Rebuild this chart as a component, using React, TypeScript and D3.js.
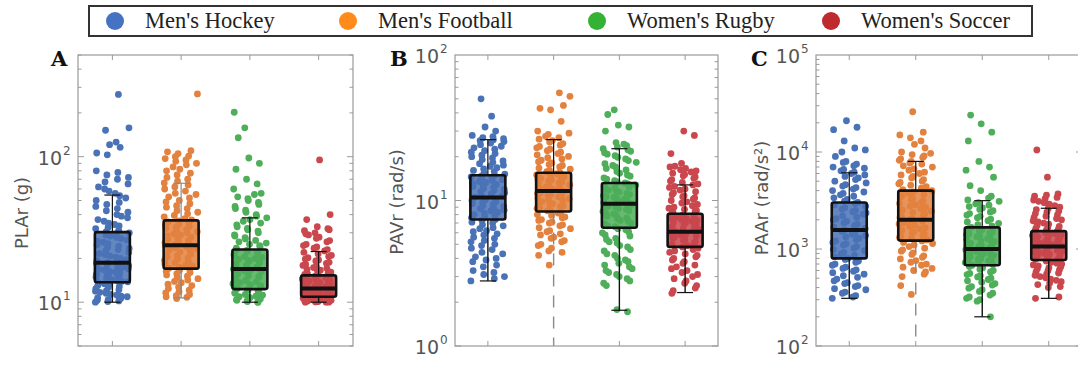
import React from 'react';
import * as d3 from 'd3';

// groups, in draw order
const categories = ["Men's Hockey", "Men's Football", "Women's Rugby", "Women's Soccer"];
const legendColors = ['#4672c2', '#ff8c1a', '#34b234', '#be2a2e'];
const pointColors = ['#4a72b6', '#e3813f', '#4eae5a', '#c9474d'];

const panelLetters = ['A', 'B', 'C'];
const yLabels = ['PLAr (g)', 'PAVr (rad/s)', 'PAAr (rad/s\u00b2)'];
const yDomains = [[5, 500], [1, 100], [100, 100000]];
const yTickExps = [[1, 2], [0, 1, 2], [2, 3, 4, 5]];

// box stats per panel, one entry per group
const q1 = [[13.7, 17, 12.3, 10.9], [7.4, 8.4, 6.5, 4.8], [800, 1220, 680, 770]];
const medians = [[18.7, 24.6, 16.9, 12.4], [10.5, 11.6, 9.5, 6.1], [1570, 2000, 1000, 1060]];
const q3 = [[30.3, 36.5, 23, 15.3], [14.9, 15.5, 13.2, 8.1], [3020, 4000, 1670, 1530]];
const whiskerLo = [[10, 10.7, 10, 10], [2.8, 1, 1.76, 2.33], [310, 100, 200, 310]];
const whiskerHi = [[54.5, 65.7, 38, 22.3], [26.2, 26.2, 22.7, 12.8], [6100, 8000, 3150, 2630]];

// individual impacts
const plaHockey = [10, 10.2, 10.4, 10.7, 11, 11.3, 11.7, 12, 12.4, 12.8, 13.2, 13.6, 13.9, 14.3, 14.7, 15.1, 15.5, 15.9, 16.3, 16.8, 17.3, 17.8, 18.3, 18.7, 19.3, 20, 20.8, 21.6, 22.5, 23.4, 24.3, 25.3, 26.3, 27.4, 28.5, 29.6, 30.5, 32, 33.5, 35, 37, 39, 41.5, 44, 47, 50, 54, 58, 62, 67, 72, 78, 103, 106, 116, 121, 126, 152, 158, 268,
  10.1, 10.3, 10.6, 10.9, 11.2, 11.5, 11.9, 12.2, 12.6, 13, 13.4, 13.8, 14.1, 14.5, 14.9, 15.3, 15.7, 16.1, 16.6, 17, 17.5, 18, 18.5, 19, 19.6, 20.4, 21.2, 22, 23, 23.9, 24.8, 25.8, 26.8, 27.9, 29, 30, 31.2, 32.8, 34.2, 36, 38, 40, 42.5, 45.5, 48.5, 52, 56, 60, 65, 70, 75, 80];
const plaFootball = [10.6, 10.9, 11.3, 11.8, 12.4, 13, 13.6, 14.2, 14.8, 15.4, 16, 16.6, 17.1, 17.7, 18.4, 19.1, 19.8, 20.5, 21.3, 22.1, 22.9, 23.7, 24.5, 25.3, 26.2, 27.1, 28, 29, 30, 31.1, 32.2, 33.3, 34.5, 35.7, 36.8, 38.5, 40.5, 42.5, 45, 47.5, 50, 53, 56, 60, 64, 68, 72, 77, 82, 88, 93, 97, 101, 105, 108, 110, 270,
  10.8, 11.1, 11.6, 12.1, 12.7, 13.3, 13.9, 14.5, 15.1, 15.7, 16.3, 16.9, 17.4, 18, 18.7, 19.4, 20.1, 20.9, 21.7, 22.5, 23.3, 24.1, 24.9, 25.7, 26.6, 27.5, 28.5, 29.5, 30.5, 31.6, 32.7, 33.9, 35.1, 36.2, 37.5, 39.5, 41.5, 44, 46, 49, 52, 55, 58, 62, 66, 70, 75, 80, 85, 90, 95, 100];
const plaRugby = [10, 10.1, 10.3, 10.5, 10.7, 10.9, 11.2, 11.5, 11.8, 12.1, 12.4, 12.8, 13.2, 13.6, 14, 14.4, 14.8, 15.2, 15.7, 16.2, 16.7, 17.1, 17.6, 18.1, 18.6, 19.1, 19.7, 20.3, 20.9, 21.6, 22.3, 23, 24, 25, 26, 27.2, 28.5, 30, 31.5, 33, 35, 37, 39, 41.5, 44, 47, 50, 53, 56, 60, 65, 70, 82, 90, 98, 135, 158, 202,
  10, 10.2, 10.4, 10.6, 10.8, 11, 11.3, 11.6, 11.9, 12.2, 12.6, 13, 13.4, 13.8, 14.2, 14.6, 15, 15.5, 16, 16.5, 16.9, 17.4, 17.9, 18.4, 18.9, 19.4, 20, 20.6, 21.2, 22, 22.7, 23.5, 24.5, 25.5, 26.6, 27.8, 29, 30.8, 32.2, 34, 36, 38, 40, 43, 45.5, 48.5, 51.5, 55];
const plaSoccer = [10, 10, 10.1, 10.2, 10.3, 10.4, 10.5, 10.6, 10.7, 10.8, 10.9, 11, 11.1, 11.3, 11.4, 11.6, 11.7, 11.9, 12, 12.2, 12.4, 12.6, 12.8, 13, 13.2, 13.5, 13.7, 14, 14.3, 14.6, 14.9, 15.3, 15.7, 16.1, 16.6, 17.1, 17.6, 18.2, 18.8, 19.5, 20.2, 21, 22, 23, 24, 25, 26.5, 28, 29, 30, 31, 32, 33, 37, 40, 95,
  10, 10.05, 10.15, 10.25, 10.35, 10.45, 10.55, 10.65, 10.75, 10.85, 10.95, 11.05, 11.2, 11.35, 11.5, 11.65, 11.8, 11.95, 12.1, 12.3, 12.5, 12.7, 12.9, 13.1, 13.35, 13.6, 13.85, 14.15, 14.45, 14.75, 15.1, 15.5, 15.9, 16.3, 16.8, 17.3, 17.9, 18.5, 19.2, 19.8, 20.6, 21.5, 22.5, 23.5, 24.5, 26, 27.5, 29.5, 31.5];

const pavHockey = [2.8, 2.9, 3.1, 3.3, 3.6, 3.9, 4.1, 4.4, 4.7, 5, 5.3, 5.6, 5.9, 6.2, 6.5, 6.8, 7.1, 7.4, 7.7, 8, 8.3, 8.6, 8.9, 9.2, 9.5, 9.8, 10.1, 10.5, 10.9, 11.3, 11.7, 12.1, 12.5, 12.9, 13.3, 13.7, 14.1, 14.5, 14.9, 15.5, 16.1, 16.8, 17.5, 18.3, 19.1, 20, 21, 22, 23, 24.2, 25.4, 26.2, 27, 28, 30, 32, 38, 50,
  3, 3.2, 3.5, 3.8, 4, 4.3, 4.6, 4.9, 5.2, 5.5, 5.8, 6.1, 6.4, 6.7, 7, 7.3, 7.6, 7.9, 8.2, 8.5, 8.8, 9.1, 9.4, 9.7, 10, 10.3, 10.7, 11.1, 11.5, 11.9, 12.3, 12.7, 13.1, 13.5, 13.9, 14.3, 14.7, 15.2, 15.8, 16.5, 17.2, 17.9, 18.7, 19.6, 20.5, 21.5, 22.5, 23.6, 24.8, 25.8, 26.6, 27.5];
const pavFootball = [3.6, 4.2, 4.4, 4.7, 5, 5.3, 5.6, 5.9, 6.2, 6.5, 6.8, 7.1, 7.4, 7.7, 8, 8.3, 8.6, 8.9, 9.2, 9.5, 9.8, 10.1, 10.4, 10.7, 11, 11.3, 11.6, 11.9, 12.2, 12.6, 13, 13.4, 13.8, 14.2, 14.6, 15, 15.5, 16.1, 16.7, 17.4, 18.1, 18.9, 19.7, 20.6, 21.5, 22.5, 23.5, 24.6, 25.8, 27, 28.5, 30, 35, 42, 43, 45, 52, 55,
  4.5, 4.9, 5.2, 5.5, 5.8, 6.1, 6.4, 6.7, 7, 7.3, 7.6, 7.9, 8.2, 8.5, 8.8, 9.1, 9.4, 9.7, 10, 10.3, 10.6, 10.9, 11.2, 11.5, 11.8, 12.1, 12.4, 12.8, 13.2, 13.6, 14, 14.4, 14.8, 15.3, 15.8, 16.4, 17, 17.7, 18.5, 19.3, 20.1, 21, 22, 23, 24, 25.2, 26.4, 27.6, 29];
const pavRugby = [1.72, 1.78, 2.6, 2.8, 3, 3.2, 3.4, 3.6, 3.8, 4, 4.3, 4.6, 4.9, 5.2, 5.5, 5.8, 6.1, 6.4, 6.7, 7, 7.3, 7.6, 7.9, 8.2, 8.5, 8.8, 9.1, 9.4, 9.7, 10, 10.3, 10.6, 11, 11.4, 11.8, 12.2, 12.6, 13, 13.4, 14, 14.7, 15.4, 16.2, 17, 17.9, 18.8, 19.8, 20.8, 21.8, 22.7, 23.8, 25, 30, 32, 33, 39, 42,
  2.7, 2.9, 3.1, 3.3, 3.5, 3.7, 3.9, 4.2, 4.5, 4.8, 5.1, 5.4, 5.7, 6, 6.3, 6.6, 6.9, 7.2, 7.5, 7.8, 8.1, 8.4, 8.7, 9, 9.3, 9.6, 9.9, 10.2, 10.5, 10.8, 11.2, 11.6, 12, 12.4, 12.8, 13.2, 13.7, 14.3, 15, 15.8, 16.6, 17.4, 18.3, 19.3, 20.3, 21.3, 22.3, 23.3, 24.4];
const pavSoccer = [2.3, 2.5, 2.7, 2.9, 3.1, 3.3, 3.5, 3.7, 3.9, 4.1, 4.3, 4.5, 4.7, 4.9, 5.1, 5.3, 5.5, 5.7, 5.9, 6.1, 6.3, 6.5, 6.7, 6.9, 7.1, 7.3, 7.5, 7.7, 7.9, 8.1, 8.4, 8.7, 9, 9.4, 9.8, 10.2, 10.6, 11, 11.5, 12, 12.5, 13, 13.6, 14.2, 14.8, 15.4, 16, 16.6, 17.2, 18, 21, 28, 30,
  2.4, 2.6, 2.8, 3, 3.2, 3.4, 3.6, 3.8, 4, 4.2, 4.4, 4.6, 4.8, 5, 5.2, 5.4, 5.6, 5.8, 6, 6.2, 6.4, 6.6, 6.8, 7, 7.2, 7.4, 7.6, 7.8, 8, 8.25, 8.55, 8.85, 9.2, 9.6, 10, 10.4, 10.8, 11.3, 11.8, 12.3, 12.8, 13.3, 13.9, 14.5, 15.1, 15.7, 16.3, 17];

const paaHockey = [310, 330, 360, 390, 420, 450, 490, 530, 570, 610, 650, 700, 750, 800, 860, 920, 990, 1060, 1130, 1210, 1290, 1380, 1470, 1570, 1680, 1800, 1930, 2060, 2200, 2350, 2500, 2670, 2850, 3020, 3250, 3500, 3750, 4000, 4300, 4600, 5000, 5400, 5800, 6200, 6600, 7000, 7500, 8000, 9000, 10000, 10500, 11000, 13000, 17000, 18000, 21000,
  320, 350, 380, 410, 440, 470, 510, 550, 590, 630, 680, 730, 780, 830, 890, 960, 1020, 1100, 1170, 1250, 1330, 1420, 1520, 1620, 1740, 1860, 2000, 2130, 2280, 2420, 2580, 2760, 2940, 3120, 3370, 3620, 3870, 4150, 4450, 4800, 5200, 5600, 6000, 6400, 6800, 7200, 7800];
const paaFootball = [340, 420, 550, 600, 650, 700, 760, 820, 880, 950, 1020, 1100, 1170, 1240, 1310, 1390, 1470, 1560, 1660, 1760, 1870, 1990, 2110, 2240, 2380, 2530, 2690, 2860, 3040, 3230, 3430, 3650, 3880, 4100, 4400, 4700, 5000, 5400, 5800, 6200, 6700, 7200, 7700, 8200, 8800, 9400, 10000, 11000, 12000, 13000, 14000, 15000, 16000, 26000,
  520, 580, 630, 680, 730, 790, 850, 910, 980, 1060, 1140, 1210, 1280, 1350, 1430, 1510, 1610, 1710, 1810, 1930, 2050, 2170, 2310, 2450, 2610, 2770, 2950, 3130, 3330, 3540, 3760, 3990, 4250, 4550, 4850, 5200, 5600, 6000, 6500, 7000, 7500, 8000, 8500, 9100, 9700];
const paaRugby = [200, 300, 320, 350, 380, 410, 440, 470, 500, 530, 560, 600, 640, 680, 710, 740, 770, 800, 830, 860, 890, 920, 960, 1000, 1040, 1090, 1140, 1190, 1250, 1310, 1370, 1430, 1500, 1580, 1670, 1780, 1900, 2030, 2170, 2320, 2480, 2650, 2830, 3000, 3200, 3500, 4000, 4500, 5500, 6500, 7000, 8000, 13000, 16000, 19500, 24000,
  290, 310, 335, 365, 395, 425, 455, 485, 515, 545, 580, 620, 660, 695, 725, 755, 785, 815, 845, 875, 905, 940, 980, 1020, 1065, 1115, 1165, 1220, 1280, 1340, 1400, 1465, 1540, 1620, 1720, 1840, 1960, 2100, 2240, 2400, 2560, 2740, 2920, 3100, 3350];
const paaSoccer = [310, 320, 400, 430, 460, 490, 520, 550, 580, 610, 640, 670, 700, 730, 770, 800, 830, 860, 890, 920, 950, 980, 1010, 1040, 1060, 1090, 1120, 1150, 1190, 1230, 1270, 1310, 1350, 1400, 1450, 1500, 1560, 1630, 1710, 1800, 1900, 2000, 2120, 2250, 2400, 2550, 2700, 2900, 3100, 3300, 3500, 3700, 5500, 10500,
  410, 445, 475, 505, 535, 565, 595, 625, 655, 685, 715, 750, 785, 815, 845, 875, 905, 935, 965, 995, 1025, 1050, 1075, 1105, 1135, 1170, 1210, 1250, 1290, 1330, 1375, 1425, 1475, 1530, 1595, 1670, 1750, 1850, 1950, 2060, 2180, 2320, 2470, 2620, 2800, 3000, 3200, 3400, 3600];

const points = [
  [plaHockey, plaFootball, plaRugby, plaSoccer],
  [pavHockey, pavFootball, pavRugby, pavSoccer],
  [paaHockey, paaFootball, paaRugby, paaSoccer],
];

const W = 1078;
const H = 367;
const frames = [
  { left: 78, right: 353 },
  { left: 455, right: 718 },
  { left: 816, right: 1082 },
];
const top = 55;
const bottom = 346;
const letterX = [51, 390, 751];
const labelPos = [{ x: 22, y: 213 }, { x: 397, y: 202 }, { x: 762, y: 198 }];

const axisGray = '#9a9a9a';
const textGray = '#555';

const Panel = ({ p }: { p: number }) => {
  const fr = frames[p];
  const x = d3.scalePoint<number>().domain([0, 1, 2, 3]).range([fr.left, fr.right]).padding(0.5);
  const y = d3.scaleLog().domain(yDomains[p]).range([bottom, top]);
  const [lo, hi] = yDomains[p];

  const minor: number[] = [];
  for (let e = Math.floor(Math.log10(lo)); e < Math.ceil(Math.log10(hi)); e++) {
    for (let m = 1; m < 10; m++) {
      const v = m * Math.pow(10, e);
      if (v >= lo && v <= hi) minor.push(v);
    }
  }

  const boxW = 35;
  const spread = 17;

  return (
    <g>
      {/* jittered points */}
      {points[p].map((vals, g) => (
        <g key={'pts' + g} fill={pointColors[g]}>
          {vals.map((v, i) => {
            const j = ((i * 0.6180339887 + g * 0.37 + (i % 7) * 0.071) % 1) - 0.5;
            return <circle key={i} cx={x(g)! + j * 2 * spread} cy={y(v)} r={3.4} />;
          })}
        </g>
      ))}

      {/* boxes */}
      {categories.map((c, g) => {
        const cx = x(g)!;
        const dashedLow = g === 1 && p > 0;
        const lowColor = g === 1 ? '#8a8a8a' : '#111';
        const hiColor = g === 1 && p === 0 ? '#8a8a8a' : '#111';
        return (
          <g key={'box' + g}>
            <line x1={cx} x2={cx} y1={y(q3[p][g])} y2={y(whiskerHi[p][g])} stroke={hiColor} strokeWidth={1.2} />
            <line x1={cx - 8} x2={cx + 8} y1={y(whiskerHi[p][g])} y2={y(whiskerHi[p][g])} stroke={hiColor} strokeWidth={1.2} />
            <line x1={cx} x2={cx} y1={y(q1[p][g])} y2={y(whiskerLo[p][g])} stroke={lowColor} strokeWidth={1.4}
              strokeDasharray={dashedLow ? '12,9' : undefined} />
            {!dashedLow && (
              <line x1={cx - 8} x2={cx + 8} y1={y(whiskerLo[p][g])} y2={y(whiskerLo[p][g])} stroke={lowColor} strokeWidth={1.2} />
            )}
            <rect x={cx - boxW / 2} y={y(q3[p][g])} width={boxW} height={y(q1[p][g]) - y(q3[p][g])}
              fill={pointColors[g]} fillOpacity={0.85} stroke="#111" strokeWidth={2.6} rx={2} />
            <line x1={cx - boxW / 2} x2={cx + boxW / 2} y1={y(medians[p][g])} y2={y(medians[p][g])} stroke="#111" strokeWidth={4} />
          </g>
        );
      })}

      {/* axes frame */}
      <rect x={fr.left} y={top} width={fr.right - fr.left} height={bottom - top} fill="none" stroke={axisGray} strokeWidth={1.2} />
      {minor.map((v) => {
        const major = Number.isInteger(Math.log10(v));
        const len = major ? 6 : 3.5;
        return (
          <g key={'t' + v} stroke={axisGray} strokeWidth={1}>
            <line x1={fr.left} x2={fr.left + len} y1={y(v)} y2={y(v)} />
            <line x1={fr.right} x2={fr.right - len} y1={y(v)} y2={y(v)} />
          </g>
        );
      })}
      {categories.map((c, g) => (
        <g key={'xt' + g} stroke={axisGray} strokeWidth={1}>
          <line x1={x(g)} x2={x(g)} y1={bottom} y2={bottom - 5} />
          <line x1={x(g)} x2={x(g)} y1={top} y2={top + 5} />
        </g>
      ))}

      {/* y tick labels */}
      {yTickExps[p].map((e) => (
        <text key={'l' + e} x={fr.left - 16} y={y(Math.pow(10, e)) + 8} textAnchor="end"
          fontFamily="DejaVu Sans" fontSize={19} fill={textGray}>
          10
        </text>
      ))}
      {yTickExps[p].map((e) => (
        <text key={'s' + e} x={fr.left - 15} y={y(Math.pow(10, e)) - 2} textAnchor="start"
          fontFamily="DejaVu Sans" fontSize={12} fill={textGray}>
          {e}
        </text>
      ))}

      <text transform={`translate(${labelPos[p].x},${labelPos[p].y}) rotate(-90)`} textAnchor="middle" dy="0.35em"
        fontFamily="DejaVu Sans" fontSize={18} fill={textGray}>
        {yLabels[p]}
      </text>
      <text x={letterX[p]} y={66} fontFamily="DejaVu Serif" fontWeight="bold" fontSize={21} fill="#111">
        {panelLetters[p]}
      </text>
    </g>
  );
};

const legendX = [115, 348, 597, 831];

const App = () => {
  return (
    <svg width={W} height={H} style={{ position: 'absolute', left: 0, top: 0, background: '#fff' }}>
      <rect x={89} y={6} width={943} height={30} fill="#fff" stroke="#333" strokeWidth={2} />
      {categories.map((c, g) => (
        <g key={c}>
          <circle cx={legendX[g]} cy={21} r={9} fill={legendColors[g]} />
          <text x={legendX[g] + 30} y={28} fontFamily="Liberation Serif" fontSize={22.5} fill="#222">
            {c}
          </text>
        </g>
      ))}
      {[0, 1, 2].map((p) => (
        <Panel key={p} p={p} />
      ))}
    </svg>
  );
};

export default App;
